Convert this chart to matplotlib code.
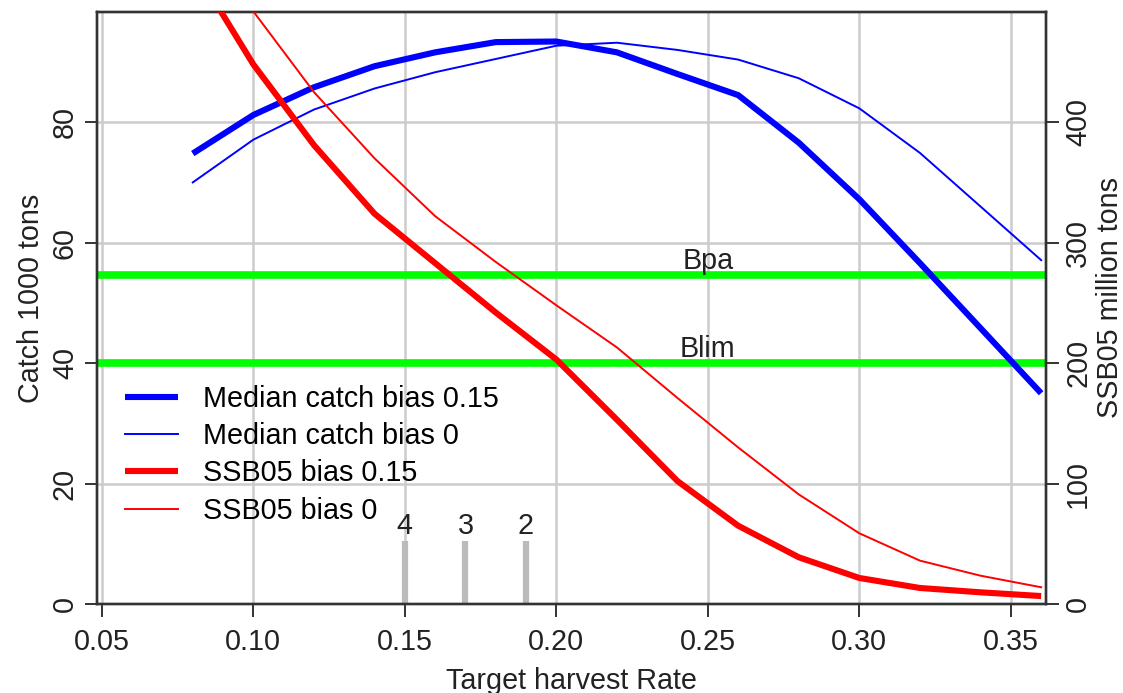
import matplotlib
matplotlib.use("Agg")
import matplotlib.pyplot as plt

plt.rcParams['font.family'] = ['Liberation Sans', 'DejaVu Sans']

# Data
harvest_rate = [0.08, 0.10, 0.12, 0.14, 0.16, 0.18, 0.20, 0.22, 0.24, 0.26, 0.28, 0.30, 0.32, 0.34, 0.36]
catch_bias015 = [74.8, 81.2, 85.8, 89.3, 91.6, 93.3, 93.4, 91.6, 88.0, 84.5, 76.6, 67.2, 56.6, 45.8, 35.0]
catch_bias0 = [70.0, 77.1, 82.1, 85.6, 88.3, 90.5, 92.7, 93.2, 92.0, 90.4, 87.3, 82.3, 74.9, 66.0, 57.1]
ssb_bias015 = [530, 448, 381, 324, 283, 242, 203, 153, 102, 65, 38.8, 21.6, 13.3, 9.7, 6.6]
ssb_bias0 = [565, 492, 425, 370, 322, 284, 248, 213, 171, 130, 91, 58.7, 36, 23.5, 13.9]
ref_points = {"Bpa": 273, "Blim": 200}
marker_rates = [0.15, 0.17, 0.19]
marker_labels = ["4", "3", "2"]
marker_height = 10.5
legend_labels = ["Median catch bias 0.15", "Median catch bias 0",
                 "SSB05 bias 0.15", "SSB05 bias 0"]

W, H = 1123, 693
fig = plt.figure(figsize=(W / 100, H / 100), dpi=100)
ax = fig.add_axes([97 / W, 1 - 604 / H, (1046 - 97) / W, (604 - 12) / H])
ax2 = ax.twinx()

FS = 20.7
ylim_left = (0, 98.3)
ax.set_xlim(0.0484, 0.3616)
ax.set_ylim(*ylim_left)
ax2.set_ylim(ylim_left[0] * 5, ylim_left[1] * 5)

gridc = '#cccccc'
ax.set_xticks([0.05, 0.10, 0.15, 0.20, 0.25, 0.30, 0.35])
ax.set_xticklabels(['0.05', '0.10', '0.15', '0.20', '0.25', '0.30', '0.35'])
ax.set_yticks([0, 20, 40, 60, 80])
ax2.set_yticks([0, 100, 200, 300, 400])
ax.grid(True, color=gridc, lw=1.8, zorder=0)
ax.set_axisbelow(True)

# reference lines (SSB units, right axis scale)
for name, val in ref_points.items():
    ax.axhline(val / 5, color='#00ff00', lw=5.5, zorder=1)
    ax.text(0.25, val / 5 + 0.1, name, ha='center', va='bottom', fontsize=FS, color='#222222', zorder=5)

# marker bars
ax.vlines(marker_rates, 0, marker_height, colors='#bbbbbb', lw=4.5, zorder=2)
for xr, lab in zip(marker_rates, marker_labels):
    ax.text(xr, marker_height + 0.1, lab, ha='center', va='bottom', fontsize=FS, color='#222222')

l1, = ax.plot(harvest_rate, catch_bias015, color='#0000ff', lw=4.4, zorder=3, solid_capstyle='butt')
l2, = ax.plot(harvest_rate, catch_bias0, color='#0000ff', lw=1.4, zorder=3)
l3, = ax2.plot(harvest_rate, ssb_bias015, color='#ff0000', lw=4.4, zorder=3, solid_capstyle='butt')
l4, = ax2.plot(harvest_rate, ssb_bias0, color='#ff0000', lw=1.4, zorder=3)

for a in (ax, ax2):
    for s in a.spines.values():
        s.set_color('#333333')
        s.set_linewidth(1.7)
    a.tick_params(length=9, width=1.4, color='#333333', labelsize=FS, labelcolor='#222222')

ax.tick_params(axis='x', pad=8)
for t in ax.get_yticklabels():
    t.set_rotation(90)
    t.set_va('center')
for t in ax2.get_yticklabels():
    t.set_rotation(90)
    t.set_va('center')
ax.tick_params(axis='y', pad=4)
ax2.tick_params(axis='y', pad=4)

ax.set_xlabel('Target harvest Rate', fontsize=FS, color='#222222', labelpad=8)
ax.set_ylabel('Catch 1000 tons', fontsize=FS, color='#222222')
ax2.set_ylabel('SSB05 million tons', fontsize=FS, color='#222222')
ax.yaxis.set_label_coords(45 / W, 1 - 298 / H, transform=fig.transFigure)
ax2.yaxis.set_label_coords(1096 / W, 1 - 298 / H, transform=fig.transFigure)

ax.legend([l1, l2, l3, l4], legend_labels, loc='upper left',
          bbox_to_anchor=(125 / W, 1 - 385 / H), bbox_transform=fig.transFigure,
          frameon=False, fontsize=FS, handlelength=1.85, handletextpad=0.85,
          labelspacing=0.32, borderpad=0, borderaxespad=0)

fig.savefig('out.png', dpi=100)
